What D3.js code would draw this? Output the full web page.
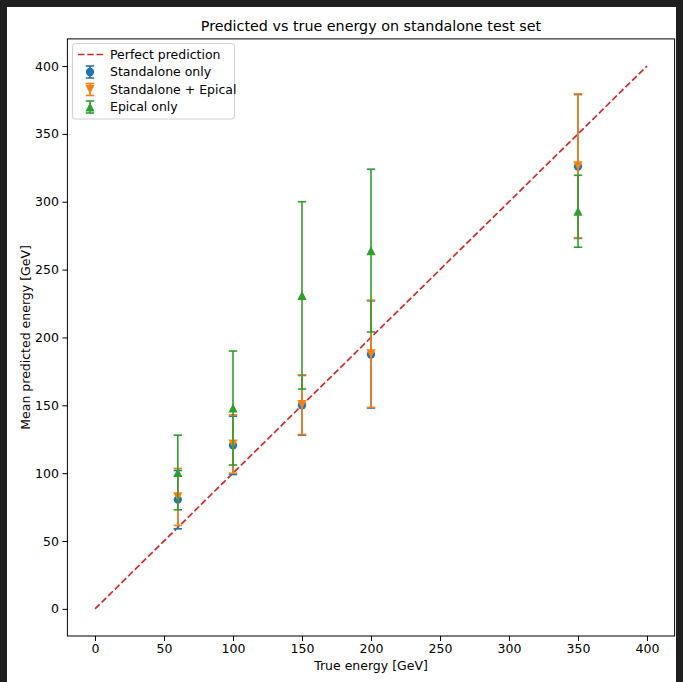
<!DOCTYPE html>
<html>
<head>
<meta charset="utf-8">
<script src="https://cdn.jsdelivr.net/npm/d3@7/dist/d3.min.js"></script>
<style>
html,body{margin:0;padding:0;background:#1f1f1f;}
svg{display:block;font-family:"DejaVu Sans",sans-serif;}
</style>
</head>
<body>
<script>
const trueEnergy = [60, 100, 150, 200, 350];
const standaloneMean = [80.5, 120.5, 150, 187.5, 326];
const standaloneErr  = [21.5, 21.5, 22, 39.5, 53];
const combinedMean   = [82.5, 121.5, 150.5, 188, 326.5];
const combinedErr    = [21, 21.5, 22, 39.5, 53];
const epicalMean     = [100.5, 148, 231, 264, 293];
const epicalErr      = [27.5, 42, 69, 60, 26.5];
const perfectLine    = [0, 400];
const xTicks = [0, 50, 100, 150, 200, 250, 300, 350, 400];
const yTicks = [0, 50, 100, 150, 200, 250, 300, 350, 400];

const W = 683, H = 682;
const svg = d3.select("body").append("svg").attr("width", W).attr("height", H);
svg.append("rect").attr("x", 7).attr("y", 7).attr("width", 669).attr("height", H - 7).attr("fill", "#fff");

const L = 67.4, R = 674.6, T = 38.9, B = 636;
const x = d3.scaleLinear().domain([-20, 420]).range([L, R]);
const y = d3.scaleLinear().domain([-20, 420]).range([B, T]);

const series = [
  {name: "Standalone only", mean: standaloneMean, err: standaloneErr, color: "#1f77b4", marker: "o"},
  {name: "Standalone + Epical", mean: combinedMean, err: combinedErr, color: "#ff7f0e", marker: "v"},
  {name: "Epical only", mean: epicalMean, err: epicalErr, color: "#2ca02c", marker: "^"}
];

const g = svg.append("g");
// perfect line
g.append("line")
  .attr("x1", x(perfectLine[0])).attr("y1", y(perfectLine[0]))
  .attr("x2", x(perfectLine[1])).attr("y2", y(perfectLine[1]))
  .attr("stroke", "#d62728").attr("stroke-width", 1.7).attr("stroke-dasharray", "6.5,2.8");

function drawMarker(sel, m, cx, cy, color, s) {
  if (m === "o") {
    sel.append("circle").attr("cx", cx).attr("cy", cy).attr("r", s).attr("fill", color);
  } else if (m === "v") {
    sel.append("path").attr("d", `M${cx - s},${cy - s}L${cx + s},${cy - s}L${cx},${cy + s}Z`).attr("fill", color);
  } else {
    sel.append("path").attr("d", `M${cx - s},${cy + s}L${cx + s},${cy + s}L${cx},${cy - s}Z`).attr("fill", color);
  }
}

const cap = 4.2;
series.forEach(s => {
  const sg = g.append("g");
  trueEnergy.forEach((te, i) => {
    const cx = x(te);
    const y1 = y(s.mean[i] - s.err[i]), y2 = y(s.mean[i] + s.err[i]);
    sg.append("line").attr("x1", cx).attr("x2", cx).attr("y1", y1).attr("y2", y2)
      .attr("stroke", s.color).attr("stroke-width", 1.6);
    [y1, y2].forEach(yy => sg.append("line").attr("x1", cx - cap).attr("x2", cx + cap)
      .attr("y1", yy).attr("y2", yy).attr("stroke", s.color).attr("stroke-width", 1.6));
  });
  trueEnergy.forEach((te, i) => drawMarker(sg, s.marker, x(te), y(s.mean[i]), s.color, s.marker === "o" ? 4.2 : 4.6));
});

// frame
svg.append("rect").attr("x", L).attr("y", T).attr("width", R - L).attr("height", B - T)
  .attr("fill", "none").attr("stroke", "#000").attr("stroke-width", 1);

// axes
const xAxis = svg.append("g").attr("transform", `translate(0,${B})`)
  .call(d3.axisBottom(x).tickValues(xTicks).tickSize(5).tickPadding(3.5).tickFormat(d3.format("d")));
const yAxis = svg.append("g").attr("transform", `translate(${L},0)`)
  .call(d3.axisLeft(y).tickValues(yTicks).tickSize(5).tickPadding(3.5).tickFormat(d3.format("d")));
[xAxis, yAxis].forEach(a => {
  a.select(".domain").remove();
  a.selectAll("text").attr("font-size", 12.5).attr("font-family", "DejaVu Sans").attr("fill", "#000");
  a.selectAll("line").attr("stroke", "#000");
});

svg.append("text").attr("x", (L + R) / 2).attr("y", 31).attr("text-anchor", "middle")
  .attr("font-size", 14.3).text("Predicted vs true energy on standalone test set");
svg.append("text").attr("x", (L + R) / 2).attr("y", 669.5).attr("text-anchor", "middle")
  .attr("font-size", 12.5).text("True energy [GeV]");
svg.append("text").attr("transform", `translate(30,${(T + B) / 2}) rotate(-90)`).attr("text-anchor", "middle")
  .attr("font-size", 12.5).text("Mean predicted energy [GeV]");

// legend
const lg = svg.append("g");
lg.append("rect").attr("x", 72.5).attr("y", 43.5).attr("width", 162).attr("height", 75.5).attr("rx", 3)
  .attr("fill", "#fff").attr("fill-opacity", 0.8).attr("stroke", "#d0d0d0").attr("stroke-width", 1);
const rowY = [54.5, 72, 89.5, 107];
lg.append("line").attr("x1", 78).attr("x2", 104).attr("y1", rowY[0]).attr("y2", rowY[0])
  .attr("stroke", "#d62728").attr("stroke-width", 1.7).attr("stroke-dasharray", "6.5,2.8");
lg.append("text").attr("x", 110).attr("y", rowY[0]).attr("dy", "0.35em").attr("font-size", 12.5).text("Perfect prediction");
series.forEach((s, i) => {
  const cy = rowY[i + 1], cx = 90;
  lg.append("line").attr("x1", cx).attr("x2", cx).attr("y1", cy - 6).attr("y2", cy + 6).attr("stroke", s.color).attr("stroke-width", 1.6);
  [cy - 6, cy + 6].forEach(yy => lg.append("line").attr("x1", cx - cap).attr("x2", cx + cap).attr("y1", yy).attr("y2", yy).attr("stroke", s.color).attr("stroke-width", 1.6));
  drawMarker(lg, s.marker, cx, cy, s.color, s.marker === "o" ? 4.2 : 4.6);
  lg.append("text").attr("x", 110).attr("y", cy).attr("dy", "0.35em").attr("font-size", 12.5).text(s.name);
});
</script>
</body>
</html>
